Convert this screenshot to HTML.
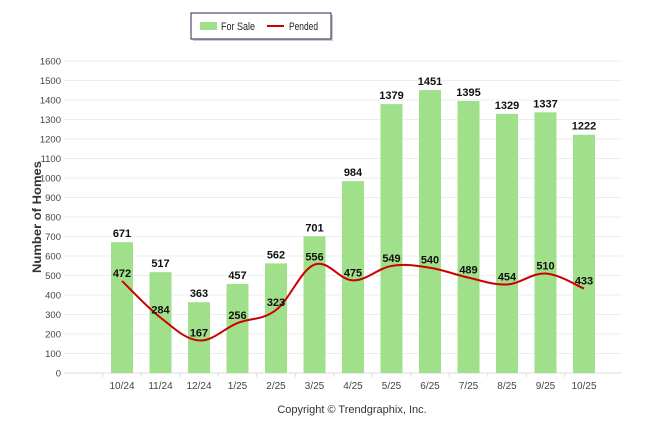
<!DOCTYPE html>
<html><head><meta charset="utf-8"><style>
body{margin:0;background:#fff;font-family:"Liberation Sans",Arial,sans-serif}
svg text{font-family:"Liberation Sans",Arial,sans-serif}
</style></head><body>
<svg id="c" width="646" height="434" viewBox="0 0 646 434">
<rect width="646" height="434" fill="#fff"/>
<g>
<rect x="193" y="15" width="140" height="26" fill="#aaa" opacity="0.6"/>
<rect x="191" y="13" width="140" height="26" fill="#fff" stroke="#1f2d4f" stroke-width="1"/>
<rect x="200" y="22" width="17" height="8" fill="#a0e08a"/>
<text x="221" y="30" font-size="11" textLength="34" lengthAdjust="spacingAndGlyphs" fill="#222">For Sale</text>
<rect x="267" y="25" width="17" height="2" fill="#cc0000"/>
<text x="289" y="30" font-size="11" textLength="29" lengthAdjust="spacingAndGlyphs" fill="#222">Pended</text>
</g>
<text transform="translate(41,217) rotate(-90)" text-anchor="middle" font-size="12" font-weight="bold" textLength="112" lengthAdjust="spacingAndGlyphs" fill="#333">Number of Homes</text>
<text x="352" y="413" text-anchor="middle" font-size="11" fill="#333">Copyright © Trendgraphix, Inc.</text>
<g id="grid"></g><g id="bars"></g><g id="line"></g><g id="labels"></g>
</svg>
<script>
const categories=["10/24","11/24","12/24","1/25","2/25","3/25","4/25","5/25","6/25","7/25","8/25","9/25","10/25"];
const forSale=[671,517,363,457,562,701,984,1379,1451,1395,1329,1337,1222];
const pended=[472,284,167,256,323,556,475,549,540,489,454,510,433];
const yTicks=[0,100,200,300,400,500,600,700,800,900,1000,1100,1200,1300,1400,1500,1600];
const NS="http://www.w3.org/2000/svg";
const y0=373,yTop=61,yMax=1600,left=64,right=622;
const y=v=>y0-(v/yMax)*(y0-yTop);
const x=i=>122+i*38.5;
function mk(t,a,p){const e=document.createElementNS(NS,t);for(const k in a)e.setAttribute(k,a[k]);p.appendChild(e);return e;}
const grid=document.getElementById('grid');
yTicks.forEach(v=>{
 const l=mk('line',{x1:left,x2:right,y1:y(v),y2:y(v),stroke:v===0?'#ddd':'#eee','stroke-width':1},grid);
 
 
 const t=mk('text',{x:61,y:y(v)+3.5,'text-anchor':'end','font-size':'9.5',fill:'#444'},grid);t.textContent=v;
 
 
});
const bars=document.getElementById('bars'),labels=document.getElementById('labels');
categories.forEach((c,i)=>{
 const tk=mk('line',{x1:x(i)-19.25,x2:x(i)-19.25,y1:y0,y2:y0+4,stroke:'#ddd'},grid);
 
 
 const b=mk('rect',{x:x(i)-11,y:y(forSale[i]),width:22,height:y0-y(forSale[i]),fill:'#a0e08a'},bars);
 
 
 const t=mk('text',{x:x(i),y:y0+16,'text-anchor':'middle','font-size':'10',fill:'#444'},grid);t.textContent=c;
 
 
 const v=mk('text',{x:x(i),y:y(forSale[i])-5,'text-anchor':'middle','font-size':'11','font-weight':'bold',fill:'#111'},labels);v.textContent=forSale[i];
 
 
 const p=mk('text',{x:x(i),y:y(pended[i])-4,'text-anchor':'middle','font-size':'11','font-weight':'bold',fill:'#111'},labels);p.textContent=pended[i];
 
 
});
const pts=pended.map((v,i)=>[x(i),y(v)]);
let d='M'+pts[0][0]+','+pts[0][1];
for(let i=0;i<pts.length-1;i++){
 const p0=pts[Math.max(0,i-1)],p1=pts[i],p2=pts[i+1],p3=pts[Math.min(pts.length-1,i+2)];
 const s=0.18;
 d+=` C${p1[0]+(p2[0]-p0[0])*s},${p1[1]+(p2[1]-p0[1])*s} ${p2[0]-(p3[0]-p1[0])*s},${p2[1]-(p3[1]-p1[1])*s} ${p2[0]},${p2[1]}`;
}
const ln=mk('path',{d:d,fill:'none',stroke:'#cc0000','stroke-width':2},document.getElementById('line'));


</script>
</body></html>
